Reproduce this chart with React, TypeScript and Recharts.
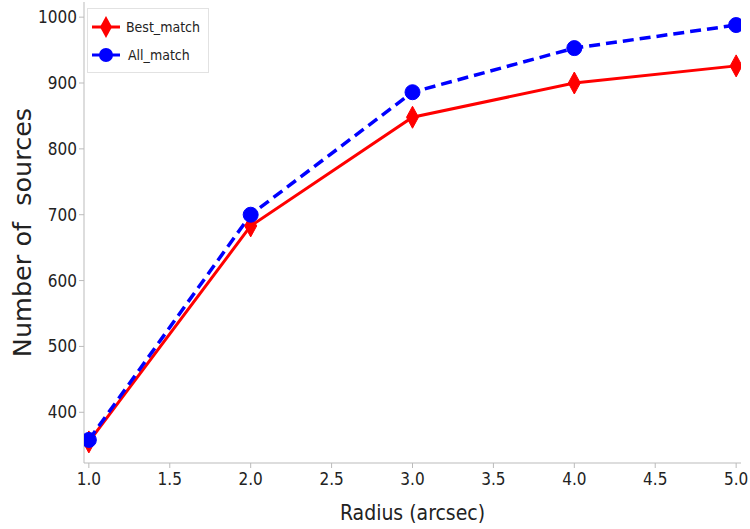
import React from 'react';
import { LineChart, Line, XAxis, YAxis } from 'recharts';

const radius = [1.0, 2.0, 3.0, 4.0, 5.0];
const bestMatch = [355, 683, 848, 900, 926];
const allMatch = [358, 700, 886, 953, 988];
const xTicks = [1.0, 1.5, 2.0, 2.5, 3.0, 3.5, 4.0, 4.5, 5.0];
const yTicks = [400, 500, 600, 700, 800, 900, 1000];

const data = radius.map((r, i) => ({ r, best: bestMatch[i], all: allMatch[i] }));

const FONT = '"DejaVu Sans Condensed", "DejaVu Sans", sans-serif';

const Diamond = (props: any) => {
  const { cx, cy } = props;
  if (cx == null || cy == null) return null;
  return (
    <polygon
      points={`${cx},${cy - 11} ${cx + 6},${cy} ${cx},${cy + 11} ${cx - 6},${cy}`}
      fill="#ff0000"
      stroke="#ff0000"
    />
  );
};

const Circle = (props: any) => {
  const { cx, cy } = props;
  if (cx == null || cy == null) return null;
  return <circle cx={cx} cy={cy} r={7.5} fill="#0000ff" stroke="#0000ff" />;
};

const LegendBox = () => (
  <div
    style={{
      position: 'absolute',
      left: 87,
      top: 8,
      border: '1px solid #e2e2e2',
      background: 'rgba(255,255,255,0.8)',
      padding: '4px 8px 3px 2px',
      fontFamily: FONT,
      fontSize: 14,
      color: '#222',
      width: 110,
    }}
  >
    {[
      { name: 'Best_match', color: '#ff0000', marker: 'd' },
      { name: 'All_match', color: '#0000ff', marker: 'o' },
    ].map((e) => (
      <div key={e.name} style={{ display: 'flex', alignItems: 'center', height: 28 }}>
        <svg width={34} height={26}>
          <line x1={2} x2={30} y1={13} y2={13} stroke={e.color} strokeWidth={3} />
          {e.marker === 'd' ? (
            <polygon points="16,2 22,13 16,24 10,13" fill={e.color} />
          ) : (
            <circle cx={16} cy={13} r={7} fill={e.color} />
          )}
        </svg>
        <span style={{ marginLeft: 4 }}>{e.name}</span>
      </div>
    ))}
  </div>
);

export default function App() {
  return (
    <div style={{ position: 'absolute', left: 0, top: 0, width: 750, height: 529, background: '#fff' }}>
      <LineChart width={750} height={529} data={data} margin={{ top: 2, right: 9, left: 0, bottom: 0 }}>
        <XAxis
          dataKey="r"
          type="number"
          domain={[0.97, 5.03]}
          ticks={xTicks}
          tickFormatter={(v: number) => v.toFixed(1)}
          allowDataOverflow
          height={66}
          stroke="#bbb"
          tickSize={5}
          tickMargin={5}
          tick={{ fill: '#222', fontSize: 17, fontFamily: FONT }}
          label={{
            value: 'Radius (arcsec)',
            position: 'insideBottom',
            offset: 9,
            style: { fill: '#222', fontSize: 21, fontFamily: FONT },
          }}
        />
        <XAxis xAxisId="top" orientation="top" dataKey="r" type="number" domain={[0.97, 5.03]} height={0} tick={false} stroke="#bbb" />
        <YAxis
          type="number"
          domain={[323, 1023]}
          ticks={yTicks}
          allowDataOverflow
          width={84}
          stroke="#bbb"
          tickSize={5}
          tick={{ fill: '#222', fontSize: 17, fontFamily: FONT }}
          label={{
            value: 'Number of\u00a0\u00a0sources',
            angle: -90,
            position: 'insideLeft',
            offset: 22,
            style: { fill: '#222', fontSize: 25.5, fontFamily: '"DejaVu Sans", sans-serif', textAnchor: 'middle' },
          }}
        />
        <YAxis yAxisId="right" orientation="right" width={0} tick={false} stroke="#bbb" />
        <Line dataKey="best" stroke="#ff0000" strokeWidth={3} dot={<Diamond />} activeDot={false} isAnimationActive={false} />
        <Line dataKey="all" stroke="#0000ff" strokeWidth={3.5} strokeDasharray="11 6" dot={<Circle />} activeDot={false} isAnimationActive={false} />
      </LineChart>
      <LegendBox />
    </div>
  );
}
